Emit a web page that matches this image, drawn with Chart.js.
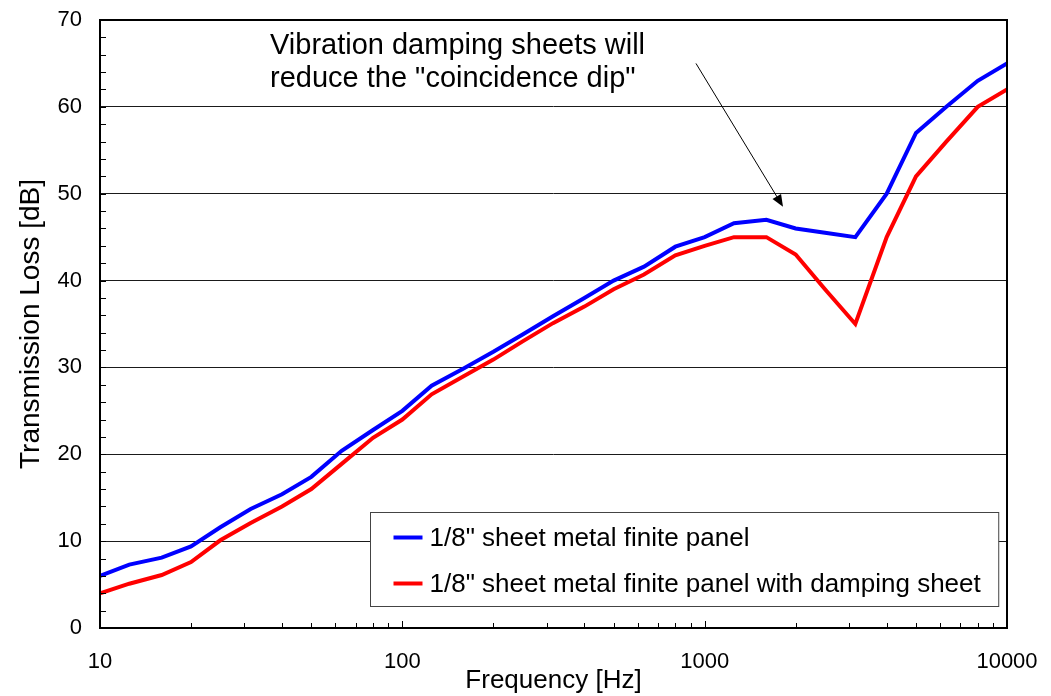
<!DOCTYPE html>
<html>
<head>
<meta charset="utf-8">
<script src="https://cdn.jsdelivr.net/npm/chart.js@4"></script>
<style>
  html, body { margin: 0; padding: 0; background: #fff; }
  #wrap { width: 1051px; height: 696px; }
</style>
</head>
<body>
<div id="wrap"><canvas id="tlChart" width="1051" height="696"></canvas></div>
<script>
// 1/3-octave band centre frequencies [Hz]
const freqs = [10, 12.5, 16, 20, 25, 31.5, 40, 50, 63, 80, 100, 125, 160, 200, 250, 315, 400, 500,
               630, 800, 1000, 1250, 1600, 2000, 2500, 3150, 4000, 5000, 6300, 8000, 10000];

// Transmission loss [dB]
const panelTL   = [6.0, 7.3, 8.1, 9.4, 11.6, 13.7, 15.4, 17.4, 20.4, 22.8, 25.0, 27.9, 29.9, 31.8, 33.8, 35.9, 38.0, 40.0,
                   41.6, 43.9, 45.0, 46.6, 47.0, 46.0, 45.5, 45.0, 50.0, 57.0, 60.0, 63.0, 65.0];
const dampedTL  = [4.0, 5.1, 6.1, 7.6, 10.1, 12.1, 14.0, 16.0, 18.9, 21.9, 24.0, 26.9, 29.0, 30.9, 33.0, 35.1, 37.0, 39.0,
                   40.7, 42.9, 44.0, 45.0, 45.0, 43.0, 39.0, 35.0, 45.0, 52.0, 56.0, 60.0, 62.0];

const seriesNames = ['1/8" sheet metal finite panel', '1/8" sheet metal finite panel with damping sheet'];

// axis ticks
const xTickLabels = [10, 100, 1000, 10000];
const xMinorTicks = [20, 30, 40, 50, 60, 70, 80, 90, 200, 300, 400, 500, 600, 700, 800, 900,
                     2000, 3000, 4000, 5000, 6000, 7000, 8000, 9000];
const yTickLabels = [0, 10, 20, 30, 40, 50, 60, 70];

const note = {
  lines: ['Vibration damping sheets will', 'reduce the "coincidence dip"'],
  textAt: [36.5, 67.0],        // [Hz, dB] of first line, left aligned
  lineStep: 3.75,              // dB between lines
  arrowFrom: [936, 65.0],
  arrowTo: [1816, 48.5]
};

const FONT = '"Liberation Sans", Arial, sans-serif';

// frame + inward tick marks
const framePlugin = {
  id: 'frame',
  afterDatasetsDraw(chart) {
    const { ctx, chartArea: a, scales: { x, y } } = chart;
    ctx.save();
    ctx.strokeStyle = '#000';
    ctx.lineWidth = 1;
    ctx.beginPath();
    xMinorTicks.forEach(v => {
      const px = Math.round(x.getPixelForValue(v)) + 0.5;
      ctx.moveTo(px, a.bottom); ctx.lineTo(px, a.bottom - 5);
    });
    xTickLabels.forEach(v => {
      const px = Math.round(x.getPixelForValue(v)) + 0.5;
      ctx.moveTo(px, a.bottom); ctx.lineTo(px, a.bottom - 7);
    });
    for (let v = 0; v <= 70; v += 2) {
      const py = Math.round(y.getPixelForValue(v)) + 0.5;
      ctx.moveTo(a.left, py); ctx.lineTo(a.left + 6, py);
    }
    ctx.stroke();
    ctx.lineWidth = 2;
    ctx.strokeRect(a.left, a.top, a.right - a.left, a.bottom - a.top);
    ctx.restore();
  }
};

// legend box inside the plot + annotation
const extrasPlugin = {
  id: 'extras',
  afterDraw(chart) {
    const { ctx, chartArea: a, scales: { x, y } } = chart;
    ctx.save();
    ctx.textBaseline = 'middle';

    // legend
    ctx.font = '26px ' + FONT;
    const sets = chart.data.datasets;
    const textW = Math.max(...sets.map(d => ctx.measureText(d.label).width));
    const boxW = 59 + textW + 18;
    const boxH = 94;
    const bx = Math.round(a.right - 9 - boxW) + 0.5;
    const by = Math.round(a.bottom - 22 - boxH) + 0.5;
    ctx.fillStyle = '#fff';
    ctx.fillRect(bx, by, boxW, boxH);
    ctx.strokeStyle = '#444';
    ctx.lineWidth = 1;
    ctx.strokeRect(bx, by, boxW, boxH);
    sets.forEach((d, i) => {
      const cy = by + 25 + i * 46;
      ctx.strokeStyle = d.borderColor;
      ctx.lineWidth = 4;
      ctx.beginPath();
      ctx.moveTo(bx + 23, cy); ctx.lineTo(bx + 52, cy);
      ctx.stroke();
      ctx.fillStyle = '#000';
      ctx.fillText(d.label, bx + 59, cy + 1);
    });

    // annotation
    ctx.font = '29px ' + FONT;
    ctx.fillStyle = '#000';
    ctx.textAlign = 'left';
    note.lines.forEach((t, i) => {
      ctx.fillText(t, x.getPixelForValue(note.textAt[0]), y.getPixelForValue(note.textAt[1] - i * note.lineStep));
    });
    const x0 = x.getPixelForValue(note.arrowFrom[0]), y0 = y.getPixelForValue(note.arrowFrom[1]);
    const x1 = x.getPixelForValue(note.arrowTo[0]),   y1 = y.getPixelForValue(note.arrowTo[1]);
    const ang = Math.atan2(y1 - y0, x1 - x0);
    ctx.strokeStyle = '#000';
    ctx.lineWidth = 1;
    ctx.beginPath();
    ctx.moveTo(x0, y0);
    ctx.lineTo(x1 - 8 * Math.cos(ang), y1 - 8 * Math.sin(ang));
    ctx.stroke();
    ctx.beginPath();
    ctx.moveTo(x1, y1);
    ctx.lineTo(x1 - 12 * Math.cos(ang) + 5 * Math.sin(ang), y1 - 12 * Math.sin(ang) - 5 * Math.cos(ang));
    ctx.lineTo(x1 - 12 * Math.cos(ang) - 5 * Math.sin(ang), y1 - 12 * Math.sin(ang) + 5 * Math.cos(ang));
    ctx.closePath();
    ctx.fill();
    ctx.restore();
  }
};

const ctx = document.getElementById('tlChart').getContext('2d');
new Chart(ctx, {
  type: 'line',
  data: {
    datasets: [{
      label: seriesNames[0],
      data: freqs.map((f, i) => ({ x: f, y: panelTL[i] })),
      borderColor: '#0000ff',
      borderWidth: 4,
      pointRadius: 0,
      tension: 0,
      fill: false
    }, {
      label: seriesNames[1],
      data: freqs.map((f, i) => ({ x: f, y: dampedTL[i] })),
      borderColor: '#ff0000',
      borderWidth: 4,
      pointRadius: 0,
      tension: 0,
      fill: false
    }]
  },
  options: {
    responsive: false,
    animation: false,
    layout: { padding: { top: 20, right: 44, left: 0, bottom: 0 } },
    plugins: {
      legend: { display: false },
      tooltip: { enabled: false }
    },
    scales: {
      x: {
        type: 'logarithmic',
        min: 10,
        max: 10000,
        afterBuildTicks: s => { s.ticks = xTickLabels.map(v => ({ value: v })); },
        afterFit: s => { s.height = 68; s.paddingLeft = 0; s.paddingRight = 0; },
        ticks: {
          autoSkip: false,
          maxRotation: 0,
          padding: 21,
          color: '#000',
          font: { family: FONT, size: 22 },
          callback: v => String(v)
        },
        grid: { display: false, drawTicks: false },
        border: { display: false },
        title: {
          display: true,
          text: 'Frequency [Hz]',
          color: '#000',
          font: { family: FONT, size: 26 },
          padding: { top: 0, bottom: 0 }
        }
      },
      y: {
        min: 0,
        max: 70,
        afterBuildTicks: s => { s.ticks = yTickLabels.map(v => ({ value: v })); },
        afterFit: s => { s.width = 100; s.paddingTop = 0; s.paddingBottom = 0; },
        ticks: {
          padding: 18,
          color: '#000',
          font: { family: FONT, size: 22 }
        },
        grid: { color: '#1a1a1a', lineWidth: 1, drawTicks: false },
        border: { display: false },
        title: {
          display: true,
          text: 'Transmission Loss [dB]',
          color: '#000',
          font: { family: FONT, size: 28 },
          padding: { top: 14, bottom: 0 }
        }
      }
    }
  },
  plugins: [framePlugin, extrasPlugin]
});
</script>
</body>
</html>
